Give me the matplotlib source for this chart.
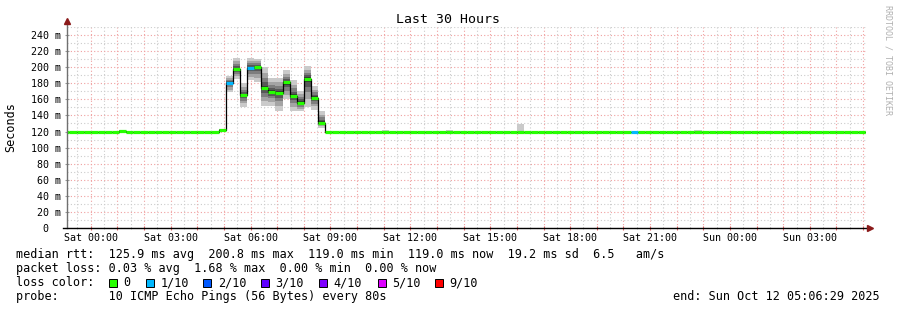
import numpy as np
import matplotlib
matplotlib.use("Agg")
import matplotlib.pyplot as plt
from matplotlib.ticker import FixedLocator, MultipleLocator

plt.rcParams['font.family'] = ['DejaVu Sans Mono']

# 16-minute RRD steps, first step starts 64 min before Sat 00:00
step_min = 16
start_min = -64
# median rtt per step (ms)
median = [
    119.0, 119.0, 119.0, 119.0, 119.0, 119.0, 119.0, 119.0, 120.5, 119.0,
    119.0, 119.0, 119.0, 119.0, 119.0, 119.0, 119.0, 119.0, 119.0, 119.0,
    119.0, 119.0, 122.0, 180.6, 198.0, 165.0, 199.0, 200.5, 174.0, 169.5,
    168.0, 181.0, 164.0, 156.0, 185.6, 162.0, 131.0, 119.0, 119.0, 119.0,
    119.0, 119.0, 119.0, 119.0, 119.0, 120.0, 119.0, 119.0, 119.0, 119.0,
    119.0, 119.0, 119.0, 119.0, 119.0, 119.0, 119.0, 119.0, 119.0, 119.0,
    119.0, 119.0, 119.0, 119.0, 119.0, 119.0, 119.0, 119.0, 119.0, 119.0,
    119.0, 119.0, 119.0, 119.0, 119.0, 119.0, 119.0, 119.0, 119.0, 119.0,
    119.0, 119.0, 119.0, 119.0, 119.0, 119.0, 119.0, 119.0, 119.0, 119.0,
    119.0, 119.0, 119.0, 119.0, 119.0, 119.0, 119.0, 119.0, 119.0, 119.0,
    119.0, 119.0, 119.0, 119.0, 119.0, 119.0, 119.0, 119.0, 119.0, 119.0,
    119.0, 119.0, 119.0, 119.0,
]
# steps with lost pings (1 of 10)
loss_idx = [23, 26, 80]
loss_val = [1, 1, 1]

# smoke (ping spread) during the burst
smoke_idx = [8, 22, 23, 24, 25, 26, 27, 28, 29, 30, 31, 32, 33, 34, 35, 36]
smoke_lo = [119.5, 120.5, 169, 185, 151, 184, 182, 152, 152, 146, 160, 145, 145, 151, 147, 125]
smoke_hi = [122.5, 123.5, 189, 211, 180, 211, 210, 200, 187, 187, 196, 184, 171, 201, 176, 145]

# single outlier pings on the flat part
out_idx = [3, 37, 38, 41, 45, 53, 54, 56, 60, 64, 83, 89]
out_hi = [121, 121, 121, 121, 121.5, 121, 122, 121, 121, 129, 120.5, 121.5]

loss_labels = ["0", "1/10", "2/10", "3/10", "4/10", "5/10", "9/10"]
loss_colors = ["#26ff00", "#00b8ff", "#0059ff", "#5e00ff", "#7e00ff", "#dd00ff", "#ff0000"]
smoke_colors = ["#cacaca", "#a4a4a4", "#7e7e7e", "#585858", "#323232"]
smoke_frac = [1.0, 0.72, 0.48, 0.28, 0.12]

day_labels = ["Sat 00:00", "Sat 03:00", "Sat 06:00", "Sat 09:00", "Sat 12:00",
              "Sat 15:00", "Sat 18:00", "Sat 21:00", "Sun 00:00", "Sun 03:00"]

rtt_line = "median rtt:  125.9 ms avg  200.8 ms max  119.0 ms min  119.0 ms now  19.2 ms sd  6.5   am/s"
loss_line = "packet loss: 0.03 % avg  1.68 % max  0.00 % min  0.00 % now"
probe_line = "probe:       10 ICMP Echo Pings (56 Bytes) every 80s"
end_line = "end: Sun Oct 12 05:06:29 2025"

W, H = 897, 310
fig = plt.figure(figsize=(W / 100, H / 100), dpi=100)
ax = fig.add_axes([67 / W, 1 - 228 / H, (866 - 67) / W, (228 - 27) / H])

med = np.array(median)
n = len(med)
t0 = (start_min + step_min * np.arange(n)) / 60.0
dt = step_min / 60.0

# smoke bands, outer light to inner dark
for col, f in zip(smoke_colors, smoke_frac):
    for i, lo, hi in zip(smoke_idx, smoke_lo, smoke_hi):
        m = med[i]
        b = m - (m - lo) * f
        top = m + (hi - m) * f
        ax.bar(t0[i], top - b, bottom=b, width=dt, align='edge', color=col, linewidth=0, zorder=2)
for i, hi in zip(out_idx, out_hi):
    ax.bar(t0[i], hi - med[i], bottom=med[i], width=dt, align='edge',
           color=smoke_colors[0], linewidth=0, zorder=2)

# median line
tx = np.append(t0, t0[-1] + dt)
ax.step(tx, np.append(med, med[-1]), where='post', color='black', lw=0.9, zorder=3)

# loss-colored median bars
cols = [loss_colors[0]] * n
for i, l in zip(loss_idx, loss_val):
    cols[i] = loss_colors[l]
ax.hlines(med, t0, t0 + dt, colors=cols, lw=2.3, zorder=4, capstyle='butt')

end_h = 29 + 6.483 / 60
ax.set_xlim(end_h - 30, end_h)
ax.set_ylim(0, 250)

# grid
ax.xaxis.set_minor_locator(MultipleLocator(0.5))
ax.yaxis.set_minor_locator(FixedLocator(np.arange(10, 251, 20)))
xt = np.arange(0, 30)
ax.set_xticks(xt)
ax.set_xticklabels([day_labels[h // 3] if h % 3 == 0 else "" for h in xt])
yt = np.arange(0, 241, 20)
ax.set_yticks(yt)
ax.set_yticklabels(["0  " if v == 0 else f"{v} m" for v in yt])
ax.grid(which='major', color='#f0a0a0', linestyle=(0, (1, 2)), lw=0.8, zorder=1)
ax.grid(which='minor', color='#cccccc', linestyle=(0, (1, 2)), lw=0.8, zorder=1)
ax.set_axisbelow(True)

ax.tick_params(axis='x', which='major', direction='inout', length=3, color='#e06060',
               labelsize=7.2, pad=2)
ax.tick_params(axis='x', which='minor', direction='inout', length=2, color='#bbbbbb')
ax.tick_params(axis='y', which='major', direction='inout', length=3, color='#999999',
               labelsize=7.2, pad=3)
ax.tick_params(axis='y', which='minor', length=0)

for s in ax.spines.values():
    s.set_visible(False)
ax.plot([0, 0], [0, 1.03], transform=ax.transAxes, color='#707070', lw=1, clip_on=False, zorder=5)
ax.plot([-0.005, 1.003], [0, 0], transform=ax.transAxes, color='black', lw=1, clip_on=False, zorder=5)
ax.plot([0], [1.03], transform=ax.transAxes, marker='^', ms=4, color='#8b1a1a', clip_on=False, zorder=6)
ax.plot([1.005], [0], transform=ax.transAxes, marker='>', ms=4, color='#8b1a1a', clip_on=False, zorder=6)

fs = 8.5
fig.text(447.5 / W, 1 - 19.5 / H, "Last 30 Hours", ha='center', va='center', fontsize=9.5)
fig.text(11 / W, 1 - 127 / H, "Seconds", rotation=90, ha='center', va='center', fontsize=fs)
fig.text(888 / W, 1 - 5 / H, "RRDTOOL / TOBI OETIKER", rotation=-90, ha='center', va='top',
         fontsize=6, color='#b0b0b0')

def put(x, y, s, ha='left'):
    fig.text(x / W, 1 - y / H, s, ha=ha, va='center', fontsize=fs)

put(16, 254.5, rtt_line)
put(16, 268.5, loss_line)
put(16, 282.5, "loss color:")
box_x = [109, 146, 203.3, 261, 319.3, 377.7, 435]
for bx, lab, col in zip(box_x, loss_labels, loss_colors):
    fig.patches.append(plt.Rectangle((bx / W, 1 - 286.7 / H), 8 / W, 8 / H, transform=fig.transFigure,
                                     facecolor=col, edgecolor='black', lw=0.7))
    put(bx + 14.5, 282.5, lab)
put(16, 296.5, probe_line)
put(880, 296.5, end_line, ha='right')

fig.savefig("out.png", dpi=100, facecolor='white')
